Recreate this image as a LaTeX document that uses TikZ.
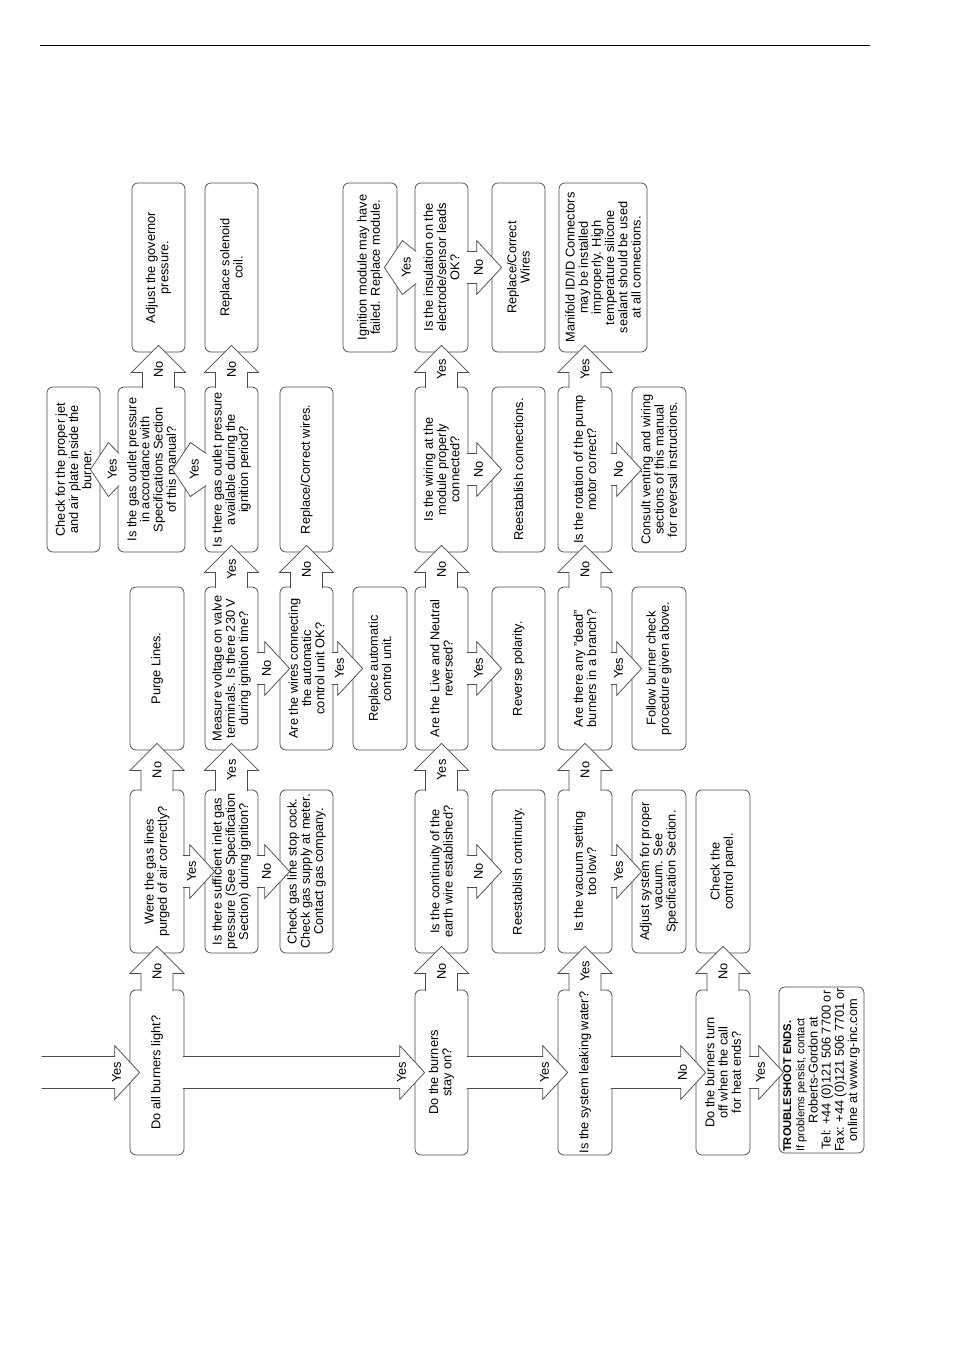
\documentclass[tikz,border=0pt]{standalone}
\usepackage{fontspec}
\setmainfont{Liberation Sans}
\usetikzlibrary{calc}
\newcommand\diagfont{\fontsize{12.8}{13.2}\selectfont}
\newcommand\smallfnt{\fontsize{11.2}{12.4}\selectfont}
\tikzset{
  box/.style={draw=black!70, line width=0.75pt, rounded corners=6pt, rotate=90, align=center, inner sep=1pt, font=\diagfont, fill=white},
  arrowbody/.style={fill=white, draw=black!70, line width=0.75pt, line join=miter},
  lbl/.style={rotate=90, inner sep=0pt, font=\diagfont},
  rule/.style={draw=black, line width=0.8pt}
}
% up arrow: #1 source, #2 target, #3 node giving x, #4 label
\newcommand\UpArr[4]{%
  \coordinate (ua-t) at (#3.center |- #2.west);
  \coordinate (ua-s) at (#3.center |- #1.east);
  \filldraw[arrowbody] ($(ua-s)+(-16,1.5)$) -- ($(ua-t)+(-16,20)$) -- ($(ua-t)+(-27,20)$) -- ($(ua-t)+(0,-7)$) -- ($(ua-t)+(27,20)$) -- ($(ua-t)+(16,20)$) -- ($(ua-s)+(16,1.5)$);
  \node[lbl] at ($(ua-t)!0.5!(ua-s)$) {#4};
}
% right arrow: [#1 tip depth], #2 source point, #3 target point, #4 label
\newcommand\RArr[4][10]{%
  \coordinate (ra-s) at (#2);
  \coordinate (ra-t) at (#3 |- ra-s);
  \coordinate (ra-tip) at ($(ra-t)+(#1,0)$);
  \filldraw[arrowbody] ($(ra-s)+(-1.5,-16)$) -- ($(ra-tip)+(-25,-16)$) -- ($(ra-tip)+(-25,-27)$) -- (ra-tip) -- ($(ra-tip)+(-25,27)$) -- ($(ra-tip)+(-25,16)$) -- ($(ra-s)+(-1.5,16)$);
  \node[lbl] at ($(ra-tip)+(-23,0)$) {#4};
}
% left arrow: [#1 tip depth], #2 source node, #3 target node, #4 label
\newcommand\LArr[4][13]{%
  \coordinate (la-s) at (#2.north);
  \coordinate (la-t) at (#3.south |- la-s);
  \coordinate (la-tip) at ($(la-t)+(-#1,0)$);
  \filldraw[arrowbody] ($(la-s)+(1.5,-16)$) -- ($(la-tip)+(18,-27)$) -- (la-tip) -- ($(la-tip)+(18,27)$) -- ($(la-s)+(1.5,16)$);
  \node[lbl] at ($(la-tip)+(22,0)$) {#4};
}
\begin{document}
\begin{tikzpicture}[x=1pt,y=-1pt]
\useasboundingbox (0,0) rectangle (954,1350);
\draw[rule] (40,45) -- (870,45);

% Row 1
\node[box,minimum width=169pt,minimum height=53pt] (A1) at (158.5,267.5) {Adjust the governor\\pressure.};
\node[box,minimum width=169pt,minimum height=53pt] (B1) at (231.5,267.5) {Replace solenoid\\coil.};
\node[box,minimum width=169pt,minimum height=54pt] (Ign) at (370,267.5) {Ignition module may have\\failed. Replace module.};
\node[box,minimum width=169pt,minimum height=53pt] (D1) at (441.5,267.5) {Is the insulation on the\\electrode/sensor leads\\OK?};
\node[box,minimum width=169pt,minimum height=53pt] (E1) at (518.5,267.5) {Replace/Correct\\Wires};
\node[box,minimum width=169pt,minimum height=88pt] (F1) at (603,267.5) {Manifold ID/ID Connectors\\may be installed\\improperly. High\\temperature silicone\\sealant should be used\\at all connections.};

% Row 2
\node[box,minimum width=165pt,minimum height=53pt] (Chk) at (73.5,469.5) {Check for the proper jet\\and air plate inside the\\burner.};
\node[box,minimum width=165pt,minimum height=67pt] (A2) at (151.5,469.5) {Is the gas outlet pressure\\in accordance with\\Specifications Section\\of this manual?};
\node[box,minimum width=165pt,minimum height=53pt] (B2) at (231.5,469.5) {Is there gas outlet pressure\\available during the\\ignition period?};
\node[box,minimum width=165pt,minimum height=53pt] (C2) at (306.5,469.5) {Replace/Correct wires.};
\node[box,minimum width=165pt,minimum height=53pt] (D2) at (441.5,469.5) {Is the wiring at the\\module properly\\connected?};
\node[box,minimum width=165pt,minimum height=53pt] (E2) at (518.5,469.5) {Reestablish connections.};
\node[box,minimum width=165pt,minimum height=54pt] (F2) at (585,469.5) {Is the rotation of the pump\\motor correct?};
\node[box,minimum width=165pt,minimum height=54pt] (G2) at (659,469.5) {Consult venting and wiring\\sections of this manual\\for reversal instructions.};

% Row 3
\node[box,minimum width=163pt,minimum height=54pt] (A3) at (157,668.5) {Purge Lines.};
\node[box,minimum width=163pt,minimum height=53pt] (B3) at (231.5,668.5) {Measure voltage on valve\\terminals. Is there 230 V\\during ignition time?};
\node[box,minimum width=163pt,minimum height=53pt] (C3) at (306.5,668.5) {Are the wires connecting\\the automatic\\control unit OK?};
\node[box,minimum width=163pt,minimum height=54pt] (RA3) at (380,668.5) {Replace automatic\\control unit.};
\node[box,minimum width=163pt,minimum height=53pt] (D3) at (441.5,668.5) {Are the Live and Neutral\\reversed?};
\node[box,minimum width=163pt,minimum height=53pt] (E3) at (518.5,668.5) {Reverse polarity.};
\node[box,minimum width=163pt,minimum height=54pt] (F3) at (585,668.5) {Are there any "dead"\\burners in a branch?};
\node[box,minimum width=163pt,minimum height=54pt] (G3) at (659,668.5) {Follow burner check\\procedure given above.};

% Row 4
\node[box,minimum width=163pt,minimum height=54pt] (A4) at (157,871.5) {Were the gas lines\\purged of air correctly?};
\node[box,minimum width=163pt,minimum height=53pt] (B4) at (231.5,871.5) {Is there sufficient inlet gas\\pressure (See Specification\\Section) during ignition?};
\node[box,minimum width=163pt,minimum height=53pt] (C4) at (306.5,871.5) {Check gas line stop cock.\\Check gas supply at meter.\\Contact gas company.};
\node[box,minimum width=163pt,minimum height=53pt] (D4) at (441.5,871.5) {Is the continuity of the\\earth wire established?};
\node[box,minimum width=163pt,minimum height=53pt] (E4) at (518.5,871.5) {Reestablish continuity.};
\node[box,minimum width=163pt,minimum height=54pt] (F4) at (585,871.5) {Is the vacuum setting\\too low?};
\node[box,minimum width=163pt,minimum height=54pt] (G4) at (659,871.5) {Adjust system for proper\\vacuum. See\\Specification Section.};
\node[box,minimum width=163pt,minimum height=54pt] (H4) at (723,871.5) {Check the\\control panel.};

% Row 5
\node[box,minimum width=165pt,minimum height=54pt] (A5) at (157,1072.5) {Do all burners light?};
\node[box,minimum width=165pt,minimum height=53pt] (D5) at (441.5,1072.5) {Do the burners\\stay on?};
\node[box,minimum width=165pt,minimum height=54pt] (F5) at (585,1072.5) {Is the system leaking water?};
\node[box,minimum width=165pt,minimum height=54pt] (H5) at (723,1072.5) {Do the burners turn\\off when the call\\for heat ends?};
\node[box,minimum width=166pt,minimum height=85pt] (I5) at (821.5,1070) {\begin{tabular}{@{}c@{}}\multicolumn{1}{@{}l@{}}{\smallfnt\bfseries TROUBLESHOOT ENDS.}\\ \multicolumn{1}{@{}l@{}}{\smallfnt If problems persist, contact}\\ Roberts-Gordon at\\ Tel: +44 (0)121 506 7700 or\\ Fax: +44 (0)121 506 7701 or\\ online at www.rg-inc.com\end{tabular}};

% main yes/no trunk
\coordinate (start) at (43,1072.5);
\RArr{start}{A5.north}{Yes}
\RArr{A5.south}{D5.north}{Yes}
\RArr{D5.south}{F5.north}{Yes}
\RArr{F5.south}{H5.north}{No}
\RArr[5]{H5.south}{I5.north}{Yes}

% upward arrows
\UpArr{A5}{A4}{A5}{No}
\UpArr{A4}{A3}{A4}{No}
\UpArr{A2}{A1}{A1}{No}
\UpArr{B4}{B3}{B4}{Yes}
\UpArr{B3}{B2}{B3}{Yes}
\UpArr{B2}{B1}{B2}{No}
\UpArr{C3}{C2}{C3}{No}
\UpArr{D5}{D4}{D5}{No}
\UpArr{D4}{D3}{D4}{Yes}
\UpArr{D3}{D2}{D3}{No}
\UpArr{D2}{D1}{D2}{Yes}
\UpArr{F5}{F4}{F5}{Yes}
\UpArr{F4}{F3}{F4}{No}
\UpArr{F3}{F2}{F3}{No}
\UpArr{F2}{F1}{F2}{Yes}
\UpArr{H5}{H4}{H5}{No}

% side arrows to the right
\RArr{A4.south}{B4.north}{Yes}
\RArr{B4.south}{C4.north}{No}
\RArr{B3.south}{C3.north}{No}
\RArr{C3.south}{RA3.north}{Yes}
\RArr{D4.south}{E4.north}{No}
\RArr{D3.south}{E3.north}{Yes}
\RArr{D2.south}{E2.north}{No}
\RArr{D1.south}{E1.north}{No}
\RArr{F4.south}{G4.north}{Yes}
\RArr{F3.south}{G3.north}{Yes}
\RArr{F2.south}{G2.north}{No}

% side arrows to the left
\LArr[10]{A2}{Chk}{Yes}
\LArr{B2}{A2}{Yes}
\LArr{D1}{Ign}{Yes}
\end{tikzpicture}
\end{document}
